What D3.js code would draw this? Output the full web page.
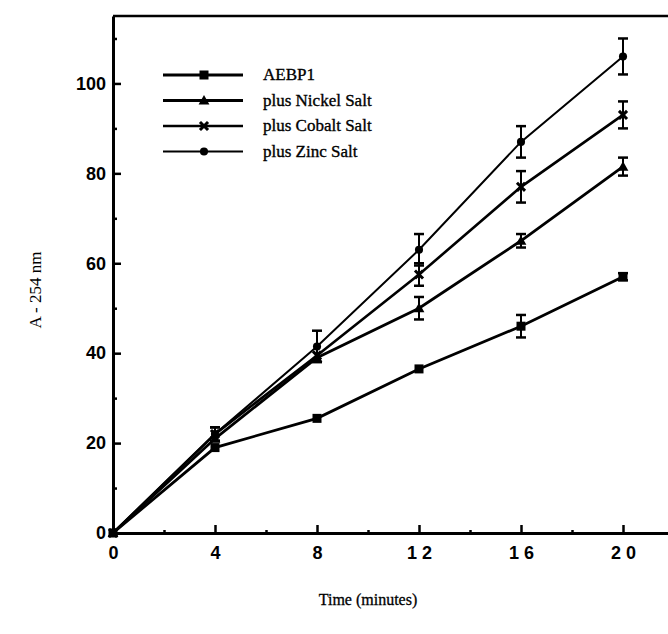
<!DOCTYPE html>
<html>
<head>
<meta charset="utf-8">
<script src="https://cdn.jsdelivr.net/npm/d3@7"></script>
<style>
  body { margin: 0; background: #fff; }
  svg { display: block; }
</style>
</head>
<body>
<div id="chart"></div>
<script>
// Time points (minutes)
const times = [0, 4, 8, 12, 16, 20];

// Series values
const aebp1 = [0, 19, 25.5, 36.5, 46, 57];
const nickel = [0, 21, 39, 50, 65, 81.5];
const cobalt = [0, 22, 39.5, 57.5, 77, 93];
const zinc = [0, 22, 41.5, 63, 87, 106];

// Error bar half-widths
const aebp1Err = [0, 0, 0, 0, 2.5, 0.8];
const nickelErr = [0, 0, 0, 2.5, 1.5, 2];
const cobaltErr = [0, 1.5, 0, 2.5, 3.5, 3];
const zincErr = [0, 1.5, 3.5, 3.5, 3.5, 4];

const seriesNames = ['AEBP1', 'plus Nickel Salt', 'plus Cobalt Salt', 'plus Zinc Salt'];
const markerTypes = ['square', 'triangle', 'cross', 'circle'];

const xTicks = [0, 4, 8, 12, 16, 20];
const xTickLabels = ['0', '4', '8', '1 2', '1 6', '2 0'];
const yTicks = [0, 20, 40, 60, 80, 100];

const W = 668, H = 634;
const margin = { left: 113, top: 16, bottom: 533 };

const svg = d3.select('#chart').append('svg')
  .attr('width', W)
  .attr('height', H);

const x = d3.scaleLinear().domain([0, 22.5]).range([margin.left, margin.left + 22.5 * 25.5]);
const y = d3.scaleLinear().domain([0, 115]).range([margin.bottom, margin.top]);

const series = [
  { name: seriesNames[0], values: aebp1, err: aebp1Err, marker: markerTypes[0], width: 2.8 },
  { name: seriesNames[1], values: nickel, err: nickelErr, marker: markerTypes[1], width: 2.8 },
  { name: seriesNames[2], values: cobalt, err: cobaltErr, marker: markerTypes[2], width: 2.6 },
  { name: seriesNames[3], values: zinc, err: zincErr, marker: markerTypes[3], width: 2.0 }
];

const sansFont = '"Liberation Sans", Arial, sans-serif';
const serifFont = '"Liberation Serif", "Times New Roman", serif';

// Frame: top border line
svg.append('line')
  .attr('x1', x(0)).attr('x2', W + 5)
  .attr('y1', y(115)).attr('y2', y(115))
  .attr('stroke', '#000').attr('stroke-width', 2.5);

// Y axis
const yAxis = d3.axisLeft(y)
  .tickValues(d3.range(0, 115, 10))
  .tickSize(0)
  .tickFormat(d => yTicks.includes(d) ? d : '');
const gy = svg.append('g')
  .attr('transform', `translate(${x(0)},0)`)
  .call(yAxis);
gy.select('.domain').attr('stroke', '#000').attr('stroke-width', 3);
gy.selectAll('.tick text')
  .attr('x', -7)
  .attr('font-family', sansFont)
  .attr('font-size', 18)
  .attr('font-weight', 'bold')
  .attr('fill', '#000');
// inward ticks
gy.selectAll('.tick').append('line')
  .attr('x1', 0)
  .attr('x2', d => yTicks.includes(d) ? 8 : 4)
  .attr('stroke', '#000').attr('stroke-width', 2.5);

// X axis
const xAxis = d3.axisBottom(x)
  .tickValues(d3.range(0, 23, 2))
  .tickSize(0)
  .tickFormat(d => {
    const i = xTicks.indexOf(d);
    return i >= 0 ? xTickLabels[i] : '';
  });
const gx = svg.append('g')
  .attr('transform', `translate(0,${y(0)})`)
  .call(xAxis);
gx.select('.domain').attr('stroke', '#000').attr('stroke-width', 3);
gx.selectAll('.tick text')
  .attr('y', 13)
  .attr('font-family', sansFont)
  .attr('font-size', 18)
  .attr('font-weight', 'bold')
  .attr('fill', '#000');
gx.selectAll('.tick').append('line')
  .attr('y1', 0)
  .attr('y2', d => xTicks.includes(d) ? -8 : -3)
  .attr('stroke', '#000').attr('stroke-width', 2.5);

// Axis titles
svg.append('text')
  .attr('x', 368).attr('y', 605)
  .attr('text-anchor', 'middle')
  .attr('font-family', serifFont)
  .attr('font-size', 16)
  .attr('stroke', '#000').attr('stroke-width', 0.3)
  .text('Time (minutes)');

svg.append('text')
  .attr('transform', 'translate(41,290) rotate(-90)')
  .attr('text-anchor', 'middle')
  .attr('font-family', serifFont)
  .attr('font-size', 17)
  .text('A - 254 nm');

// Marker drawing
function drawMarker(g, type, cx, cy, s) {
  if (type === 'square') {
    g.append('rect').attr('x', cx - s / 2).attr('y', cy - s / 2)
      .attr('width', s).attr('height', s).attr('fill', '#000');
  } else if (type === 'triangle') {
    g.append('path')
      .attr('d', `M${cx},${cy - s * 0.6} L${cx + s * 0.6},${cy + s * 0.45} L${cx - s * 0.6},${cy + s * 0.45} Z`)
      .attr('fill', '#000');
  } else if (type === 'cross') {
    const r = s * 0.45;
    g.append('path')
      .attr('d', `M${cx - r},${cy - r} L${cx + r},${cy + r} M${cx + r},${cy - r} L${cx - r},${cy + r}`)
      .attr('stroke', '#000').attr('stroke-width', 3);
  } else {
    g.append('circle').attr('cx', cx).attr('cy', cy).attr('r', s * 0.45).attr('fill', '#000');
  }
}

const line = d3.line()
  .x((d, i) => x(times[i]))
  .y(d => y(d));

const plot = svg.append('g');
series.forEach(s => {
  const g = plot.append('g');
  g.append('path')
    .datum(s.values)
    .attr('d', line)
    .attr('fill', 'none')
    .attr('stroke', '#000')
    .attr('stroke-width', s.width);

  // error bars
  s.values.forEach((v, i) => {
    const e = s.err[i];
    if (!e) return;
    const cx = x(times[i]);
    g.append('line').attr('x1', cx).attr('x2', cx)
      .attr('y1', y(v - e)).attr('y2', y(v + e))
      .attr('stroke', '#000').attr('stroke-width', 2);
    [v - e, v + e].forEach(b => {
      g.append('line').attr('x1', cx - 5).attr('x2', cx + 5)
        .attr('y1', y(b)).attr('y2', y(b))
        .attr('stroke', '#000').attr('stroke-width', 2.5);
    });
  });

  // markers
  s.values.forEach((v, i) => {
    drawMarker(g, s.marker, x(times[i]), y(v), 9);
  });
});

// Legend
const legend = svg.append('g');
series.forEach((s, i) => {
  const ly = 75 + i * 25.5;
  legend.append('line')
    .attr('x1', 163).attr('x2', 243)
    .attr('y1', ly).attr('y2', ly)
    .attr('stroke', '#000').attr('stroke-width', s.width);
  drawMarker(legend, s.marker, 204, ly, 9);
  legend.append('text')
    .attr('x', 263).attr('y', ly + 5)
    .attr('font-family', serifFont)
    .attr('font-size', 17)
    .attr('stroke', '#000').attr('stroke-width', 0.35)
    .text(s.name);
});
</script>
</body>
</html>
